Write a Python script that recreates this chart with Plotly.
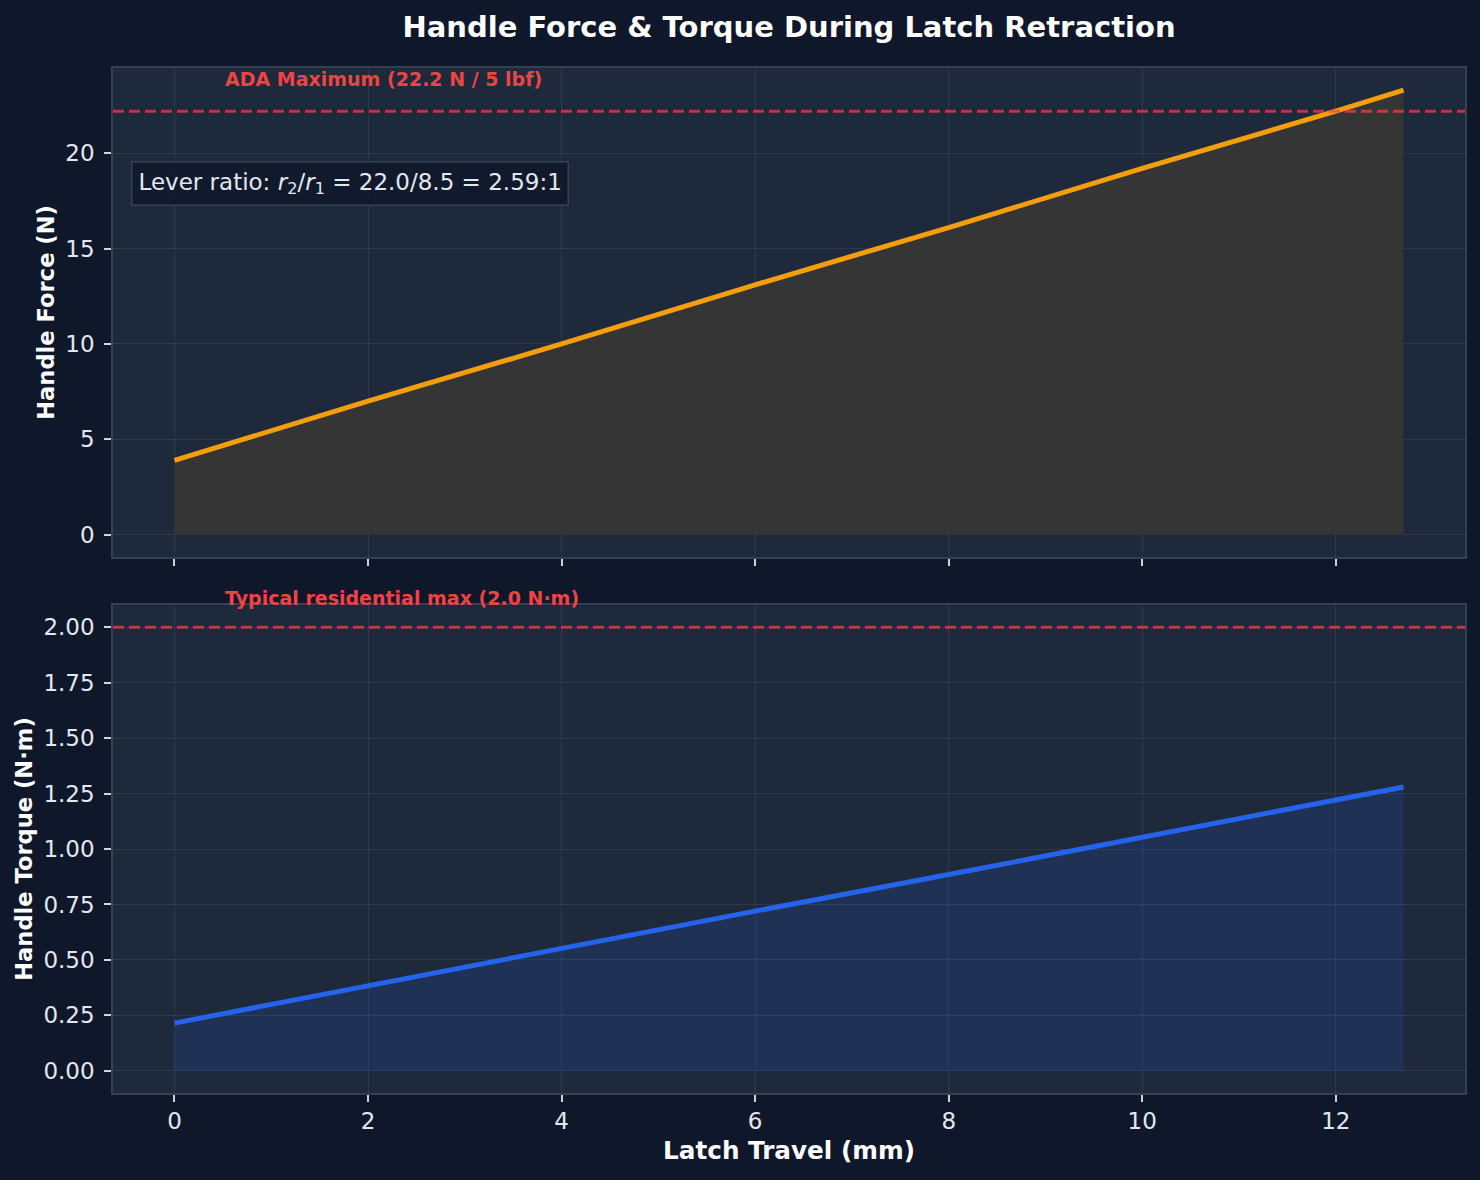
import plotly.graph_objects as go
from plotly.subplots import make_subplots

# latch travel (mm) and values
travel_mm = [0, 2, 4, 6, 8, 10, 12, 12.7]
handle_force_n = [3.9, 7.0, 10.0, 13.1, 16.1, 19.2, 22.2, 23.3]
handle_torque_nm = [0.215, 0.385, 0.55, 0.72, 0.885, 1.055, 1.22, 1.28]

ada_max_n = 22.2
residential_max_nm = 2.0

x_ticks = [0, 2, 4, 6, 8, 10, 12]
force_ticks = [0, 5, 10, 15, 20]
torque_ticks = [0, 0.25, 0.5, 0.75, 1.0, 1.25, 1.5, 1.75, 2.0]

FONT = "DejaVu Sans"
FIG_BG = "#0f172a"
AX_BG = "#1e293b"
SPINE = "#334155"
GRID = "rgba(71,85,105,0.35)"
TXT = "#e2e8f0"
ORANGE = "#f59e0b"
BLUE = "#2563eb"
RED = "#ef4444"

fig = make_subplots(rows=2, cols=1, shared_xaxes=True, vertical_spacing=0.047)

# (1) force
fig.add_trace(go.Scatter(
    x=travel_mm, y=handle_force_n, mode="lines",
    line=dict(color=ORANGE, width=5),
    fill="tozeroy", fillcolor="rgb(53,53,53)",
    name="force"), row=1, col=1)

# (2) torque
fig.add_trace(go.Scatter(
    x=travel_mm, y=handle_torque_nm, mode="lines",
    line=dict(color=BLUE, width=5),
    fill="tozeroy", fillcolor="rgba(37,99,235,0.15)",
    name="torque"), row=2, col=1)

# limit lines
for yref, val in (("y", ada_max_n), ("y2", residential_max_nm)):
    fig.add_shape(type="line", xref=yref.replace("y", "x") + " domain", yref=yref,
                  x0=0, x1=1, y0=val, y1=val, layer="above",
                  line=dict(color="rgba(239,68,68,0.7)", width=3, dash="11px,5px"))

fig.add_annotation(x=0.5, y=23.9, xref="x", yref="y", xanchor="left", yanchor="middle",
                   text="<b>ADA Maximum (22.2 N / 5 lbf)</b>", showarrow=False,
                   font=dict(family=FONT, size=19, color=RED))
fig.add_annotation(x=0.5, y=0.483, xref="x2", yref="paper", xanchor="left", yanchor="middle",
                   text="<b>Typical residential max (2.0 N·m)</b>", showarrow=False,
                   font=dict(family=FONT, size=19, color=RED))
fig.add_annotation(x=0.0135, y=0.763, xref="x domain", yref="y domain",
                   xanchor="left", yanchor="middle", showarrow=False,
                   text="Lever ratio: <i>r</i><sub>2</sub>/<i>r</i><sub>1</sub> = 22.0/8.5 = 2.59:1",
                   font=dict(family=FONT, size=23, color=TXT),
                   bgcolor="rgba(15,23,42,0.85)", bordercolor=SPINE, borderwidth=1.5,
                   borderpad=6)

axis_common = dict(
    showline=True, linecolor=SPINE, linewidth=1.5, mirror=True,
    showgrid=True, gridcolor=GRID, gridwidth=1, zeroline=False,
    ticks="outside", ticklen=7, tickwidth=1.5, tickcolor="#cbd5e1",
    tickfont=dict(family=FONT, size=23, color=TXT),
)

fig.update_xaxes(**axis_common, range=[-0.635, 13.335], tickvals=x_ticks)
fig.update_xaxes(showticklabels=False, row=1, col=1)
fig.update_xaxes(title=dict(text="Latch Travel (mm)", standoff=8,
                            font=dict(family=FONT, size=24.7, color="white", weight="bold")),
                 row=2, col=1)

fig.update_yaxes(**axis_common, ticklabelstandoff=5)
fig.update_yaxes(range=[-1.165, 24.465], tickvals=force_ticks,
                 title=dict(text="Handle Force (N)", standoff=4,
                            font=dict(family=FONT, size=22.6, color="white", weight="bold")),
                 row=1, col=1)
fig.update_yaxes(range=[-0.1, 2.1], tickvals=torque_ticks, tickformat=".2f",
                 title=dict(text="Handle Torque (N·m)", standoff=5,
                            font=dict(family=FONT, size=22.6, color="white", weight="bold")),
                 row=2, col=1)

fig.update_layout(
    width=1480, height=1180,
    margin=dict(l=113, r=15, t=68, b=87),
    paper_bgcolor=FIG_BG, plot_bgcolor=AX_BG,
    showlegend=False,
    font=dict(family=FONT, color=TXT),
    title=dict(text="Handle Force & Torque During Latch Retraction",
               x=0.5, xref="paper", xanchor="center",
               y=1 - 27 / 1180, yref="container", yanchor="middle",
               font=dict(family=FONT, size=29, color="white", weight="bold")),
)
fig.update_layout(yaxis=dict(domain=[0.523, 1.0]), yaxis2=dict(domain=[0.0, 0.476]))

fig.write_html("out.html", config={"displayModeBar": False},
               post_script="document.body.style.margin='0';")
